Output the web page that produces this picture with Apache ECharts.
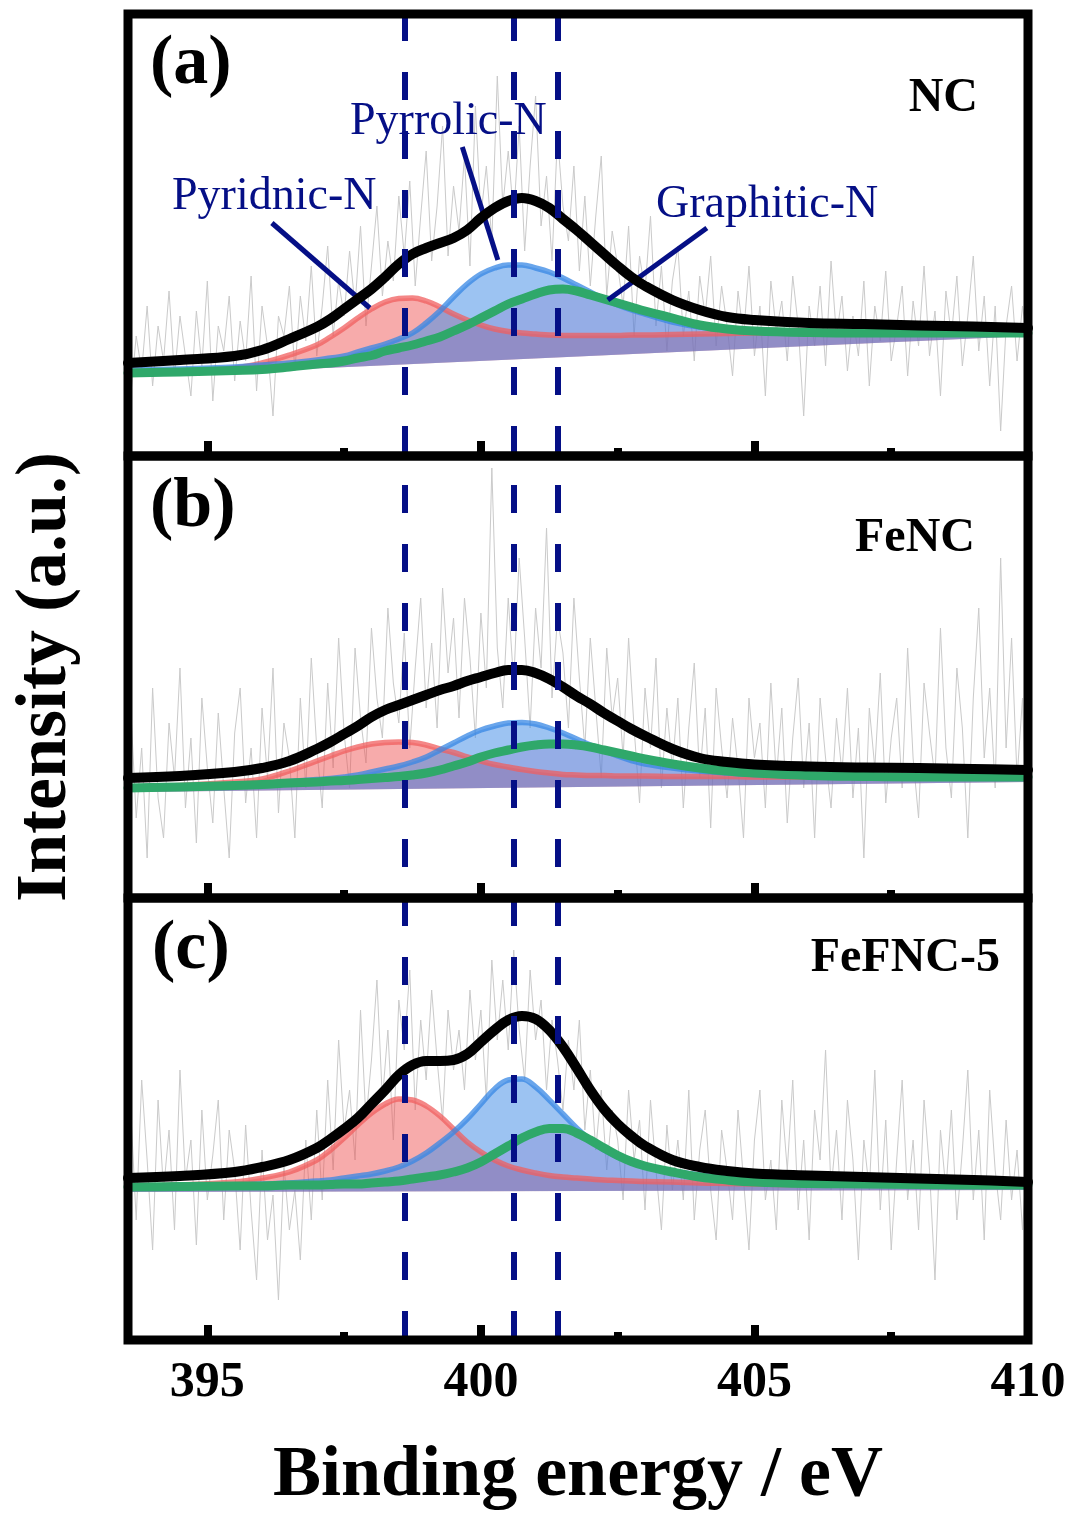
<!DOCTYPE html>
<html>
<head>
<meta charset="utf-8">
<title>N 1s XPS spectra</title>
<script src="https://cdn.jsdelivr.net/npm/echarts@6/dist/echarts.min.js"></script>
<style>
html, body { margin: 0; padding: 0; background: #fff; }
#chart { width: 1069px; height: 1514px; }
</style>
</head>
<body>
<div id="chart"></div>
<script>
// ---- fitted-curve sampling grid (binding energy, eV) ----
const energy = [393.55, 394.5, 395.5, 396, 396.5,
  397, 397.25, 397.5, 397.75, 398, 398.25, 398.5, 398.75, 399, 399.25, 399.5, 399.75,
  400, 400.25, 400.5, 400.75, 401, 401.25, 401.5, 401.75, 402, 402.25, 402.5, 402.75, 403,
  403.5, 404, 404.5, 405, 406, 407, 408, 409, 410];

// ---- (a) NC ----
const envA   = [93, 96, 100, 106, 117, 129, 137, 147, 157, 167, 179, 192, 202, 208, 213, 218, 226, 238, 248, 255, 258, 255, 248, 237, 226, 214, 202, 190, 179, 170, 156, 146, 139, 136, 133, 132, 130.5, 129.5, 128];
const redA   = [84, 85, 88, 93, 101, 111, 119, 128, 138, 147, 154, 157.5, 158, 155, 149, 142, 136, 131, 127, 124.5, 123, 122, 121, 120.5, 120.5, 120.5, 120.5, 120.5, 121, 121, 121.5, 122, 122.5, 123, 123, 123, 123, 123, 123];
const blueA  = [86, 87, 89, 91, 93, 96, 98, 100, 104, 108, 112, 117, 123, 133, 145, 159, 172, 182, 188, 191, 191, 188, 184, 178, 171, 164, 157, 151, 146, 142, 134, 129, 126.5, 125, 124, 123.5, 123, 123, 123];
const greenA = [83, 84, 85.5, 86.5, 89, 92, 93, 95, 98, 100.5, 105, 108, 111, 115, 119, 125, 131, 138, 145, 152, 157, 162, 166, 167, 165, 161, 157, 153, 149, 145, 138, 131, 127, 125, 123.5, 123, 123, 123, 123];
const floorA = [79, 120];

// ---- (b) FeNC ----
const envB   = [120, 122, 126, 130, 137, 149, 156, 164, 172, 181, 188, 193, 198, 203, 208, 212, 217, 221, 225, 228, 228, 225, 219, 211, 202, 194, 185, 177, 169, 162, 149, 140, 136, 133.5, 131.5, 130.5, 130, 129, 128];
const redB   = [111, 112.5, 116, 119, 127, 137, 142, 147, 151, 154, 155.5, 156, 155.5, 153, 149, 145.5, 141, 137, 133.5, 131, 128.5, 126.5, 125, 123.5, 123, 122.5, 122.5, 122, 122, 122, 121.5, 121.5, 121.5, 121, 121, 121, 121, 121, 121];
const blueB  = [111, 112, 113.5, 114.5, 116.5, 118.5, 119.5, 121, 123, 126, 129, 132, 136, 141, 148, 155, 162, 168, 172, 175, 175.5, 174, 170, 165, 159, 153, 147.5, 142, 137.5, 134, 130, 127, 125, 123.5, 122, 121.5, 121, 121, 121];
const greenB = [110, 111, 112.5, 113.5, 115, 116, 117, 117.5, 118.5, 119.5, 120.5, 121.5, 123, 125, 128, 132, 136, 141, 145, 148, 151, 153, 154, 154, 153, 151, 148, 145, 142, 139, 134, 130, 127, 125, 122.5, 121.5, 121, 121, 121];
const floorB = [106, 116];

// ---- (c) FeFNC-5 ----
const envC   = [162, 164, 168, 173, 180, 192, 201, 211, 222, 236, 250, 265, 275, 279, 279, 280, 286, 298, 310, 320, 324, 321, 310, 293, 272, 250, 231, 216, 204, 194, 180, 173, 169, 166.5, 164.5, 163, 161.5, 160, 158];
const redC   = [154, 155, 158, 162, 168, 180, 190, 202, 215, 227, 236, 241, 240, 234, 224, 211, 198, 188, 180, 174, 170, 167, 164.5, 163, 162, 161, 160, 159.5, 159, 158.5, 158, 157, 156.5, 156, 155.5, 155.5, 155, 155, 155];
const blueC  = [154, 154.5, 155, 156, 157, 159, 160, 162, 164, 166, 169, 173, 179, 187, 197, 208, 221, 236, 251, 260, 261, 253, 240, 226, 212, 200, 190, 183, 178, 174, 169, 165, 162, 160, 158, 156.5, 156, 155.5, 155];
const greenC = [153, 153.5, 154, 154, 155, 155, 155.5, 156, 156, 157, 158, 159, 161, 163, 165, 168, 172, 178, 186, 194, 202, 208, 211.5, 211.5, 207, 200, 192, 184.5, 178.5, 174, 168, 163, 160, 158, 156.5, 156, 155.5, 155, 155];
const floorC = [148, 150];

// ---- measured spectra: 393.6 eV to 410.0 eV in 0.1 eV steps ----
const rawStart = 393.6;
const rawStep = 0.1;
const rawA = [
  60, 120, 85, 150, 70, 130, 95, 165, 80, 140,
  100, 60, 145, 90, 175, 55, 130, 105, 160, 75,
  135, 95, 180, 65, 150, 110, 40, 140, 120, 170,
  85, 160, 115, 190, 100, 150, 210, 120, 175, 140,
  205, 150, 230, 130, 190, 250, 160, 215, 175, 260,
  200, 275, 170, 240, 305, 195, 250, 330, 200, 270,
  225, 300, 190, 350, 240, 290, 215, 380, 250, 305,
  240, 330, 205, 290, 360, 230, 280, 195, 320, 250,
  215, 290, 185, 260, 170, 240, 300, 160, 225, 190,
  150, 230, 120, 200, 165, 240, 130, 190, 105, 175,
  210, 120, 165, 95, 180, 140, 200, 110, 170, 130,
  80, 165, 120, 190, 100, 150, 60, 175, 125, 155,
  95, 180, 130, 40, 150, 110, 170, 90, 195, 120,
  160, 85, 140, 100, 175, 70, 150, 115, 185, 95,
  130, 170, 80, 155, 110, 190, 100, 145, 60, 165,
  120, 180, 90, 140, 200, 105, 160, 70, 150, 25,
  130, 170, 95, 150, 110];
const rawB = [
  190, 80, 150, 40, 210, 100, 60, 175, 120, 230,
  90, 160, 55, 200, 130, 75, 185, 110, 40, 165,
  210, 95, 150, 60, 190, 120, 230, 85, 175, 140,
  60, 200, 110, 240, 150, 90, 215, 130, 260, 165,
  110, 250, 180, 135, 270, 200, 160, 290, 215, 175,
  265, 150, 230, 300, 190, 255, 170, 310, 225, 280,
  180, 300, 240, 160, 285, 210, 430, 250, 190, 300,
  215, 340, 260, 170, 290, 230, 370, 200, 280, 245,
  170, 300, 220, 150, 260, 190, 120, 250, 180, 220,
  140, 260, 170, 95, 210, 150, 240, 110, 190, 130,
  200, 90, 170, 235, 120, 190, 70, 210, 150, 100,
  180, 130, 60, 200, 140, 175, 90, 215, 120, 190,
  75, 160, 220, 110, 175, 60, 200, 140, 90, 180,
  125, 210, 100, 170, 40, 190, 130, 225, 95, 160,
  200, 110, 250, 140, 80, 215, 165, 120, 270, 150,
  100, 230, 170, 60, 200, 290, 140, 210, 110, 340,
  150, 260, 120, 200, 30];
const rawC = [
  230, 120, 260, 180, 90, 240, 150, 210, 110, 270,
  160, 200, 95, 230, 140, 185, 240, 120, 210, 170,
  90, 215, 130, 60, 190, 100, 145, 40, 175, 110,
  150, 80, 200, 120, 230, 140, 260, 170, 300, 210,
  250, 180, 330, 220, 280, 360, 240, 310, 200, 340,
  290, 370, 230, 320, 260, 350, 280, 220, 330, 270,
  310, 250, 350, 280, 330, 240, 380, 300, 360, 290,
  390, 310, 260, 370, 300, 340, 250, 320, 280, 230,
  300, 250, 320, 210, 270, 190, 250, 170, 230, 200,
  140, 250, 180, 220, 130, 240, 170, 110, 215, 150,
  200, 140, 250, 120, 190, 230, 150, 100, 210, 170,
  120, 230, 160, 90, 200, 250, 140, 180, 110, 240,
  170, 260, 130, 200, 100, 230, 180, 290, 150, 210,
  120, 240, 180, 80, 200, 150, 270, 130, 220, 90,
  180, 260, 140, 200, 110, 240, 170, 60, 210, 150,
  230, 120, 190, 270, 140, 210, 100, 250, 170, 120,
  220, 140, 190, 110, 200];

// ---- axis ticks, reference positions and labels ----
const xMajorTicks = [395, 400, 405, 410];
const xMinorTicks = [397.5, 402.5, 407.5];
const peakPositions = [398.6, 400.6, 401.4];
const sampleNames = ['NC', 'FeNC', 'FeFNC-5'];
const panelTags = ['(a)', '(b)', '(c)'];
const componentNames = ['Pyridnic-N', 'Pyrrolic-N', 'Graphitic-N'];
// leader lines in panel (a): [from label, to peak]
const leaderLines = [
  [[396.18, 233], [397.97, 148]],
  [[399.66, 309], [400.31, 196]],
  [[404.13, 228], [402.32, 156]]
];

const panels = [
  { env: envA, red: redA, blue: blueA, green: greenA, floor: floorA, raw: rawA },
  { env: envB, red: redB, blue: blueB, green: greenB, floor: floorB, raw: rawB },
  { env: envC, red: redC, blue: blueC, green: greenC, floor: floorC, raw: rawC }
];

// ---- layout & style ----
const FONT = '"Liberation Serif", "Times New Roman", serif';
const X_MIN = 393.55, X_MAX = 410, Y_MAX = 442;
const GRID_LEFT = 128, GRID_WIDTH = 900, GRID_HEIGHT = 442;
const gridTops = [14, 456, 898];
const NAVY = '#050f86';
const dashOffsets = [1, 30, 0];

const COLORS = {
  raw: '#cacaca',
  redLine: 'rgba(240, 95, 95, 0.75)',
  redFill: 'rgba(238, 80, 80, 0.48)',
  blueLine: 'rgba(55, 135, 228, 0.75)',
  blueFill: 'rgba(75, 145, 232, 0.55)',
  greenLine: '#2fa86a',
  greenFill: 'rgba(110, 60, 165, 0.16)',
  env: '#000000'
};

function pairs(xs, ys) { return xs.map((x, i) => [x, ys[i]]); }

function rawPairs(values) {
  return values.map((v, i) => [+(rawStart + i * rawStep).toFixed(2), v]);
}

// area between a fitted component and the straight fill floor
function fillSeries(p, values, floor, color) {
  return {
    type: 'custom',
    xAxisIndex: p * 2, yAxisIndex: p,
    coordinateSystem: 'cartesian2d',
    data: pairs(energy, values),
    clip: true,
    silent: true,
    z: 2,
    renderItem: function (params, api) {
      if (params.dataIndex !== 0) return null;
      const pts = energy.map((e, i) => api.coord([e, values[i]]));
      pts.push(api.coord([energy[energy.length - 1], floor[1]]));
      pts.push(api.coord([energy[0], floor[0]]));
      return { type: 'polygon', shape: { points: pts }, style: { fill: color, stroke: null } };
    }
  };
}

function lineSeries(p, values, color, width, z) {
  return {
    type: 'line',
    xAxisIndex: p * 2, yAxisIndex: p,
    data: pairs(energy, values),
    smooth: 0.4,
    showSymbol: false,
    symbol: 'none',
    silent: true,
    z: z,
    lineStyle: { color: color, width: width, cap: 'round', join: 'round' }
  };
}

const grids = [], xAxes = [], yAxes = [], series = [];

panels.forEach((pd, p) => {
  grids.push({
    left: GRID_LEFT, top: gridTops[p], width: GRID_WIDTH, height: GRID_HEIGHT,
    show: true, backgroundColor: 'transparent', borderColor: '#000', borderWidth: 9, z: 20
  });

  const isBottom = p === 2;
  xAxes.push({
    type: 'value', gridIndex: p, min: X_MIN, max: X_MAX, position: 'bottom', z: 21,
    axisLine: { show: false },
    splitLine: { show: false },
    axisTick: { show: true, inside: true, length: 15, lineStyle: { color: '#000', width: 8 }, customValues: [395, 400, 405] },
    axisLabel: {
      show: isBottom, customValues: xMajorTicks, showMinLabel: true, showMaxLabel: true,
      margin: 18, color: '#000', fontSize: 50, fontWeight: 'bold', fontFamily: FONT
    },
    name: isBottom ? 'Binding energy / eV' : '',
    nameLocation: 'middle', nameGap: 100,
    nameTextStyle: { color: '#000', fontSize: 72, fontWeight: 'bold', fontFamily: FONT }
  });
  xAxes.push({
    type: 'value', gridIndex: p, min: X_MIN, max: X_MAX, position: 'bottom', z: 21,
    axisLine: { show: false },
    splitLine: { show: false },
    axisTick: { show: true, inside: true, length: 8, lineStyle: { color: '#000', width: 8 }, customValues: xMinorTicks },
    axisLabel: { show: false }
  });
  yAxes.push({
    type: 'value', gridIndex: p, min: 0, max: Y_MAX,
    axisLine: { show: false }, axisTick: { show: false }, axisLabel: { show: false }, splitLine: { show: false },
    name: p === 1 ? 'Intensity (a.u.)' : '',
    nameLocation: 'middle', nameGap: 46,
    nameTextStyle: { color: '#000', fontSize: 72, fontWeight: 'bold', fontFamily: FONT }
  });

  // measured spectrum
  series.push({
    type: 'line', xAxisIndex: p * 2, yAxisIndex: p,
    data: rawPairs(pd.raw), showSymbol: false, symbol: 'none', silent: true, z: 1,
    lineStyle: { color: COLORS.raw, width: 1 }
  });
  // component areas
  series.push(fillSeries(p, pd.red, pd.floor, COLORS.redFill));
  series.push(fillSeries(p, pd.blue, pd.floor, COLORS.blueFill));
  series.push(fillSeries(p, pd.green, pd.floor, COLORS.greenFill));
  // component curves and envelope
  series.push(lineSeries(p, pd.red, COLORS.redLine, 5.5, 3));
  series.push(lineSeries(p, pd.blue, COLORS.blueLine, 5.5, 3));
  series.push(lineSeries(p, pd.green, COLORS.greenLine, 9, 4));
  const env = lineSeries(p, pd.env, COLORS.env, 10, 5);
  env.markLine = {
    silent: true, symbol: ['none', 'none'], animation: false, z: 6,
    label: { show: false },
    lineStyle: { color: NAVY, width: 6, type: [28, 31], dashOffset: dashOffsets[p] },
    data: peakPositions.map(e => [{ coord: [e, Y_MAX] }, { coord: [e, 0] }])
  };
  series.push(env);

  if (p === 0) {
    series.push({
      type: 'line', xAxisIndex: 0, yAxisIndex: 0, data: [], silent: true, z: 6,
      markLine: {
        silent: true, symbol: ['none', 'none'], animation: false,
        label: { show: false },
        lineStyle: { color: NAVY, width: 5, type: 'solid' },
        data: leaderLines.map(l => [{ coord: l[0] }, { coord: l[1] }])
      }
    });
  }
});

// text labels
function txt(x, y, text, font, align, color) {
  return {
    type: 'text', x: x, y: y, z: 30, silent: true,
    style: { text: text, font: font, fill: color || '#000', textAlign: align, textVerticalAlign: 'middle', align: align, verticalAlign: 'middle' }
  };
}
const tagFont = 'bold 70px ' + FONT;
const nameFont = 'bold 48px ' + FONT;
const compFont = '46px ' + FONT;
const graphics = [
  txt(150, 65, panelTags[0], tagFont, 'left'),
  txt(150, 508, panelTags[1], tagFont, 'left'),
  txt(152, 950, panelTags[2], tagFont, 'left'),
  txt(978, 99, sampleNames[0], nameFont, 'right'),
  txt(975, 539, sampleNames[1], nameFont, 'right'),
  txt(1000, 959, sampleNames[2], nameFont, 'right'),
  txt(172, 197, componentNames[0], compFont, 'left', NAVY),
  txt(350, 122, componentNames[1], compFont, 'left', NAVY),
  txt(656, 205, componentNames[2], compFont, 'left', NAVY)
];

const chart = echarts.init(document.getElementById('chart'), null, { renderer: 'canvas' });
chart.setOption({
  backgroundColor: '#ffffff',
  animation: false,
  grid: grids,
  xAxis: xAxes,
  yAxis: yAxes,
  series: series,
  graphic: { elements: graphics }
});
</script>
</body>
</html>
